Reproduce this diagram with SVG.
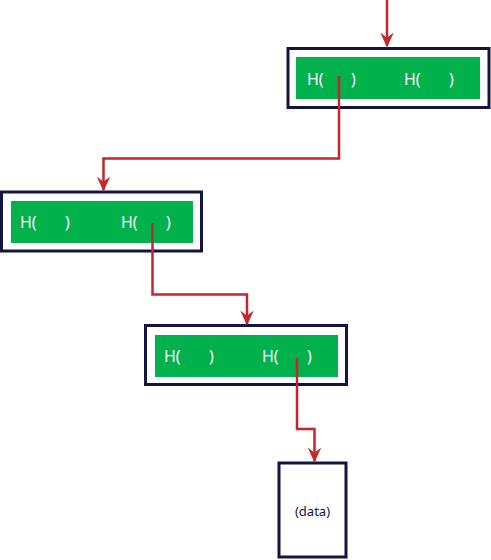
<svg xmlns="http://www.w3.org/2000/svg" width="491" height="560" viewBox="0 0 491 560">
<defs>
<style>
.outer{fill:#ffffff;stroke:#15133f;stroke-width:3}
.inner{fill:#00b14c}
.h{font-family:"Noto Sans","Lato",sans-serif;font-size:16px;fill:#ffffff}
.lbl{font-family:"Noto Sans","Lato",sans-serif;font-size:13px;fill:#15133f;text-anchor:middle}
.conn{fill:none;stroke:#c4262e;stroke-width:2.5}
</style>
<marker id="arr" viewBox="0 0 10 10" refX="9" refY="5" markerWidth="15" markerHeight="15" markerUnits="userSpaceOnUse" orient="auto">
<path d="M0,0.5 L10,5 L0,9.5 L3.5,5 Z" fill="#c4262e"/>
</marker>
</defs>
<rect width="491" height="560" fill="#ffffff"/>
<g id="node1">
<rect class="outer" x="288" y="48.5" width="201" height="59"/>
<rect class="inner" x="296" y="57" width="184" height="42"/>
<text class="h" x="307" y="85">H(</text>
<text class="h" x="351" y="85">)</text>
<text class="h" x="404" y="85">H(</text>
<text class="h" x="449" y="85">)</text>
</g>
<g id="node2">
<rect class="outer" x="1.5" y="192" width="200" height="59"/>
<rect class="inner" x="11" y="201" width="182" height="42"/>
<text class="h" x="20" y="228">H(</text>
<text class="h" x="65" y="228">)</text>
<text class="h" x="121" y="228">H(</text>
<text class="h" x="166" y="228">)</text>
</g>
<g id="node3">
<rect class="outer" x="145.5" y="325.5" width="201" height="59"/>
<rect class="inner" x="155" y="335" width="183" height="42"/>
<text class="h" x="164" y="362">H(</text>
<text class="h" x="209" y="362">)</text>
<text class="h" x="262" y="362">H(</text>
<text class="h" x="307" y="362">)</text>
</g>
<g id="data">
<rect class="outer" x="279" y="463" width="67" height="94"/>
<text class="lbl" x="312.5" y="516">(data)</text>
</g>
<g id="connectors">
<path class="conn" d="M387,0 V46" marker-end="url(#arr)"/>
<path class="conn" d="M339,76 V158.5 H103.5 V190" marker-end="url(#arr)"/>
<path class="conn" d="M152.5,223 V294.5 H247 V324" marker-end="url(#arr)"/>
<path class="conn" d="M297,358 V429 H314.5 V461" marker-end="url(#arr)"/>
</g>
</svg>
